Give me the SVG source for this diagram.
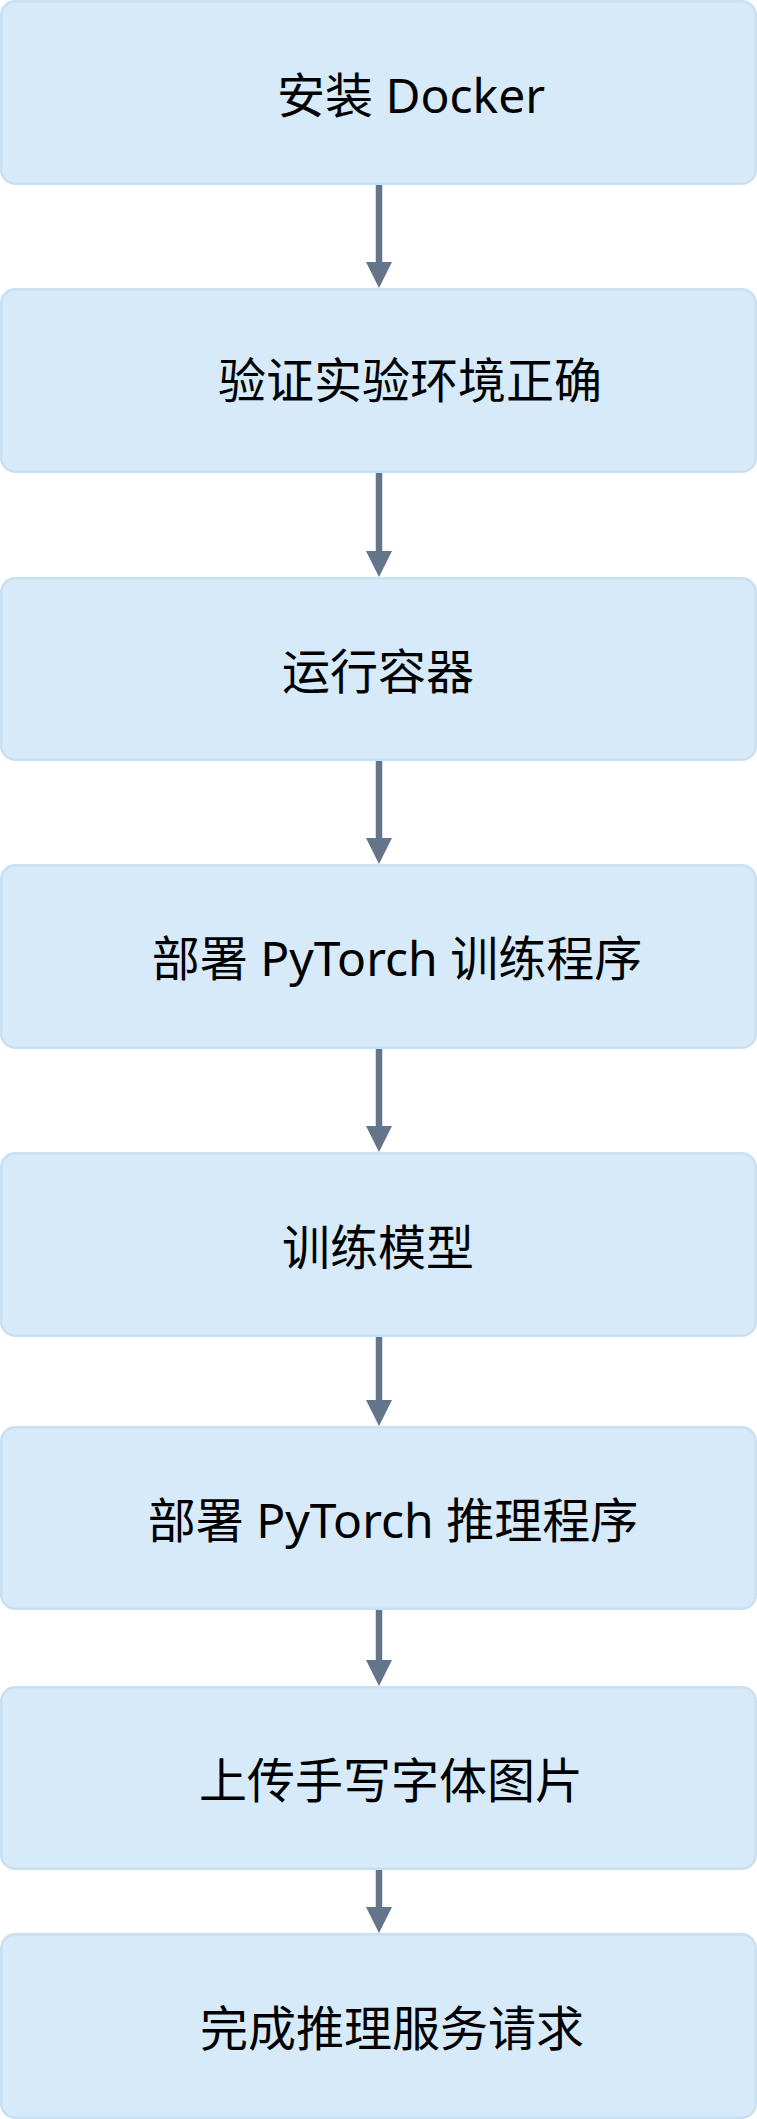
<svg xmlns="http://www.w3.org/2000/svg" width="757" height="2119" viewBox="0 0 757 2119">
<style>
.box{fill:#d6eaf9;stroke:#c8e0f3;stroke-width:2.5}
.lbl{font-family:"Noto Sans","Noto Sans CJK SC",sans-serif;font-size:48px;fill:#000;text-anchor:middle}
.edge{stroke:#64748b;stroke-width:6.5;fill:none;marker-end:url(#arr)}
</style>
<defs>
<marker id="arr" markerUnits="userSpaceOnUse" markerWidth="26" markerHeight="26" refX="0" refY="13" orient="auto" viewBox="0 0 26 26">
<path d="M0,0 L26,13 L0,26 z" fill="#64748b"/>
</marker>
</defs>
<rect width="757" height="2119" fill="#ffffff"/>
<g id="connectors">
<line class="edge" x1="379" y1="185" x2="379" y2="262"/>
<line class="edge" x1="379" y1="473" x2="379" y2="551"/>
<line class="edge" x1="379" y1="761" x2="379" y2="838"/>
<line class="edge" x1="379" y1="1049" x2="379" y2="1126"/>
<line class="edge" x1="379" y1="1337" x2="379" y2="1400"/>
<line class="edge" x1="379" y1="1610" x2="379" y2="1660"/>
<line class="edge" x1="379" y1="1870" x2="379" y2="1907"/>
</g>
<g id="n1"><rect class="box" x="1.25" y="1.25" width="754.5" height="182.5" rx="14"/><text class="lbl" x="411" y="113">安装 Docker</text></g>
<g id="n2"><rect class="box" x="1.25" y="289.25" width="754.5" height="182.5" rx="14"/><text class="lbl" x="410" y="398">验证实验环境正确</text></g>
<g id="n3"><rect class="box" x="1.25" y="578.25" width="754.5" height="181.5" rx="14"/><text class="lbl" x="378" y="689">运行容器</text></g>
<g id="n4"><rect class="box" x="1.25" y="865.25" width="754.5" height="182.5" rx="14"/><text class="lbl" x="397" y="976">部署 PyTorch 训练程序</text></g>
<g id="n5"><rect class="box" x="1.25" y="1153.25" width="754.5" height="182.5" rx="14"/><text class="lbl" x="378" y="1265">训练模型</text></g>
<g id="n6"><rect class="box" x="1.25" y="1427.25" width="754.5" height="181.5" rx="14"/><text class="lbl" x="393" y="1538">部署 PyTorch 推理程序</text></g>
<g id="n7"><rect class="box" x="1.25" y="1687.25" width="754.5" height="181.5" rx="14"/><text class="lbl" x="391" y="1798">上传手写字体图片</text></g>
<g id="n8"><rect class="box" x="1.25" y="1934.25" width="754.5" height="183.5" rx="14"/><text class="lbl" x="392" y="2046">完成推理服务请求</text></g>
</svg>
